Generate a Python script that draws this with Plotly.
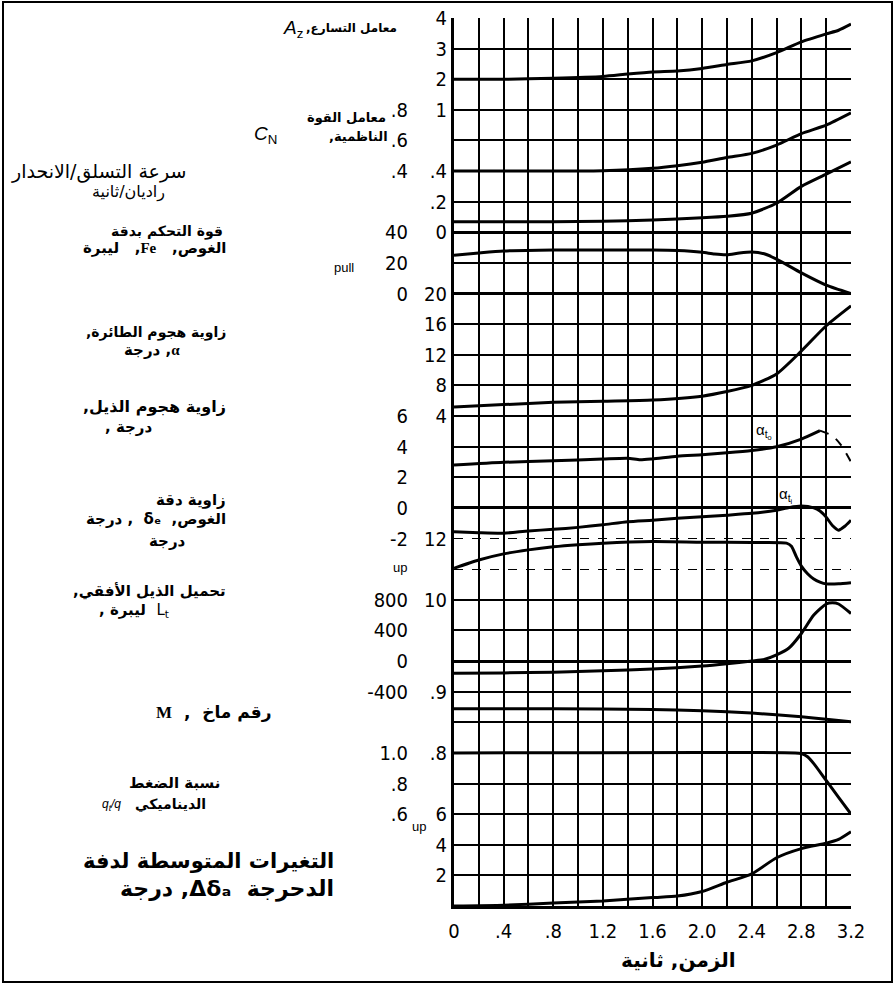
import plotly.graph_objects as go

W, H = 894, 984

# time axis, seconds
x_ticks = [0, 0.2, 0.4, 0.6, 0.8, 1.0, 1.2, 1.4, 1.6, 1.8, 2.0, 2.2, 2.4, 2.6, 2.8, 3.0, 3.2]
x_ticktext = ["0", "", ".4", "", ".8", "", "1.2", "", "1.6", "", "2.0", "", "2.4", "", "2.8", "", "3.2"]

# acceleration factor Az
t_az = [0, 0.4, 0.8, 1.2, 1.4, 1.6, 1.8, 2.0, 2.2, 2.4, 2.6, 2.8, 3.0, 3.1, 3.2]
az = [2.0, 2.0, 2.03, 2.09, 2.17, 2.24, 2.27, 2.35, 2.48, 2.6, 2.87, 3.22, 3.48, 3.6, 3.8]

# normal force coefficient CN
t_cn = [0, 0.8, 1.2, 1.6, 1.8, 2.0, 2.2, 2.4, 2.6, 2.8, 3.0, 3.2]
cn = [0.4, 0.4, 0.402, 0.418, 0.435, 0.458, 0.489, 0.516, 0.57, 0.645, 0.7, 0.78]

# pitch rate, rad/s
t_q = [0, 0.8, 1.2, 1.6, 2.0, 2.2, 2.4, 2.6, 2.8, 3.0, 3.2]
q = [0.07, 0.07, 0.072, 0.08, 0.095, 0.105, 0.125, 0.19, 0.3, 0.38, 0.46]

# stick force Fe, lb
t_fe = [0, 0.2, 0.4, 0.8, 1.2, 1.6, 1.8, 2.0, 2.1, 2.2, 2.3, 2.4, 2.5, 2.6, 2.8, 3.0, 3.2]
fe = [25, 26.5, 27.8, 28.5, 28.5, 28.5, 28.2, 27, 25.8, 25.3, 26.5, 27.2, 26, 22.5, 13.5, 5.5, 0]

# airplane angle of attack, deg
t_alpha = [0, 0.4, 0.8, 1.2, 1.6, 2.0, 2.2, 2.4, 2.6, 2.8, 3.0, 3.2]
alpha = [5.2, 5.5, 5.8, 5.95, 6.1, 6.6, 7.2, 8.0, 9.5, 12.5, 15.8, 18.4]

# tail angle of attack, outboard (solid part, then dashed end)
t_ato = [0, 0.4, 0.8, 1.2, 1.4, 1.5, 1.6, 1.8, 2.0, 2.2, 2.4, 2.6, 2.8, 2.95]
ato = [2.8, 2.98, 3.08, 3.2, 3.25, 3.14, 3.2, 3.38, 3.48, 3.6, 3.75, 4.0, 4.5, 5.05]
t_ato_end = [2.95, 3.05, 3.12, 3.2]
ato_end = [5.05, 4.7, 4.1, 3.0]

# tail angle of attack, inboard
t_ati = [0, 0.2, 0.4, 0.6, 0.8, 1.0, 1.2, 1.4, 1.6, 1.8, 2.0, 2.2, 2.4, 2.6, 2.7, 2.8,
         2.9, 2.95, 3.0, 3.05, 3.1, 3.15, 3.2]
ati = [-1.56, -1.62, -1.65, -1.5, -1.4, -1.27, -1.1, -0.9, -0.8, -0.68, -0.58, -0.47, -0.35,
       -0.15, 0.02, 0.12, 0.0, -0.2, -0.6, -1.15, -1.45, -1.2, -0.8]

# elevator angle, deg
t_de = [0, 0.2, 0.4, 0.6, 0.8, 1.0, 1.2, 1.6, 2.0, 2.4, 2.68, 2.72, 2.76, 2.8, 2.85, 2.9,
        2.95, 3.0, 3.1, 3.2]
de = [11.03, 11.3, 11.5, 11.63, 11.73, 11.8, 11.85, 11.9, 11.88, 11.87, 11.85, 11.75, 11.4,
      11.1, 10.85, 10.68, 10.58, 10.52, 10.52, 10.56]

# horizontal tail load Lt, lb
t_lt = [0, 0.4, 0.8, 1.2, 1.6, 2.0, 2.2, 2.4, 2.5, 2.6, 2.7, 2.8, 2.9, 3.0, 3.05, 3.1, 3.2]
lt = [-160, -155, -145, -128, -105, -65, -35, 0, 20, 80, 170, 360, 600, 745, 760, 745, 620]

# Mach number
t_m = [0, 0.8, 1.6, 2.0, 2.4, 2.8, 3.0, 3.2]
mach = [0.872, 0.872, 0.871, 0.869, 0.865, 0.859, 0.855, 0.851]

# dynamic pressure ratio qt/q
t_qr = [0, 2.75, 2.8, 2.85, 2.9, 3.0, 3.1, 3.2]
qr = [1.0, 1.0, 0.995, 0.975, 0.93, 0.82, 0.71, 0.6]

# mean aileron deflection change, deg
t_da = [0, 0.4, 0.8, 1.2, 1.6, 1.8, 2.0, 2.2, 2.4, 2.6, 2.8, 3.0, 3.1, 3.2]
da = [0, 0.05, 0.2, 0.33, 0.55, 0.65, 0.95, 1.55, 2.1, 3.15, 3.75, 4.1, 4.35, 4.85]

# tick labels of the stacked scales
az_ticks = [1, 2, 3, 4]
cn_ticks = [0.4, 0.6, 0.8]
cn_text = [".4", ".6", ".8"]
q_ticks = [0, 0.2, 0.4]
q_text = ["0", ".2", ".4"]
fe_ticks = [0, 20, 40]
alpha_ticks = [4, 8, 12, 16, 20]
at_ticks = [-2, 0, 2, 4, 6]
de_ticks = [10, 12]
lt_ticks = [-400, 0, 400, 800]
m_ticks = [0.8, 0.9]
m_text = [".8", ".9"]
qr_ticks = [0.6, 0.8, 1.0]
qr_text = [".6", ".8", "1.0"]
da_ticks = [2, 4, 6]


def px(x):
    return x / W


def py(y):
    return 1 - y / H


ROWS = 29          # grid rows from top (row 0) to bottom (row 29)
TOP, BOT = 18, 906
LEFT, RIGHT = 454, 851
COL_L, COL_R = 408, 447
Y_DOM = [py(BOT), py(TOP)]

TICK_FONT = dict(family="Liberation Sans Narrow, DejaVu Sans Condensed, Liberation Sans",
                 size=20, color="black")
AR = "DejaVu Sans"
RLE, PDF = "\u202b", "\u202c"


def scale_range(v_ref, row_ref, step):
    return [v_ref - (ROWS - row_ref) * step, v_ref + row_ref * step]


def scale_axis(rng, ticks, text, col, zero=False):
    return dict(overlaying="y", anchor="free", position=px(col), domain=Y_DOM, range=rng,
                tickvals=ticks, ticktext=text, showgrid=False, showline=False,
                zeroline=zero, zerolinecolor="black", zerolinewidth=3, automargin=False,
                ticks="", tickfont=TICK_FONT, side="left", fixedrange=True)


fig = go.Figure()

# empty traces so the grid axes are drawn
fig.add_trace(go.Scatter(x=[None], y=[None], yaxis="y", hoverinfo="skip"))
fig.add_trace(go.Scatter(x=[None], y=[None], yaxis="y13", hoverinfo="skip"))

curves = [
    (t_az, az, "y2"), (t_cn, cn, "y3"), (t_q, q, "y4"), (t_fe, fe, "y5"),
    (t_alpha, alpha, "y6"), (t_ato, ato, "y7"), (t_ati, ati, "y7"), (t_de, de, "y8"),
    (t_lt, lt, "y9"), (t_m, mach, "y10"), (t_qr, qr, "y11"), (t_da, da, "y12"),
]
for tx, vy, ax in curves:
    fig.add_trace(go.Scatter(x=tx, y=vy, yaxis=ax, mode="lines", hoverinfo="skip",
                             line=dict(color="black", width=3, shape="spline", smoothing=0.6)))
fig.add_trace(go.Scatter(x=t_ato_end, y=ato_end, yaxis="y7", mode="lines", hoverinfo="skip",
                         line=dict(color="black", width=2, dash="dash", shape="spline")))

grid_rows = [r for r in range(ROWS + 1) if r not in (ROWS - 17, ROWS - 18)]

fig.update_layout(
    width=W, height=H,
    margin=dict(l=0, r=0, t=0, b=0),
    paper_bgcolor="white", plot_bgcolor="rgba(0,0,0,0)",
    showlegend=False,
    xaxis=dict(domain=[px(LEFT), px(RIGHT)], range=[0, 3.2], tickvals=x_ticks,
               ticktext=x_ticktext, showgrid=True, gridcolor="black", gridwidth=2,
               showline=True, linecolor="black", linewidth=3, zeroline=False,
               ticks="", tickfont=TICK_FONT, ticklabelstandoff=5, fixedrange=True,
               automargin=False),
    yaxis=dict(domain=Y_DOM, range=[0, ROWS], tickvals=grid_rows,
               showticklabels=False, showgrid=True, gridcolor="black", gridwidth=1.5,
               showline=True, linecolor="black", linewidth=3, zeroline=False,
               ticks="", fixedrange=True, automargin=False),
    yaxis2=scale_axis(scale_range(4, 0, 1), az_ticks, [str(v) for v in az_ticks], COL_R),
    yaxis3=scale_axis(scale_range(0.8, 3, 0.2), cn_ticks, cn_text, COL_L),
    yaxis4=scale_axis(scale_range(0, 7, 0.2), q_ticks, q_text, COL_R, zero=True),
    yaxis5=scale_axis(scale_range(40, 7, 20), fe_ticks, [str(v) for v in fe_ticks], COL_L, zero=True),
    yaxis6=scale_axis(scale_range(20, 9, 4), alpha_ticks, [str(v) for v in alpha_ticks], COL_R),
    yaxis7=scale_axis(scale_range(6, 13, 2), at_ticks, [str(v) for v in at_ticks], COL_L, zero=True),
    yaxis8=scale_axis(scale_range(12, 17, 1), de_ticks, [str(v) for v in de_ticks], COL_R),
    yaxis9=scale_axis(scale_range(800, 19, 400), lt_ticks, [str(v) for v in lt_ticks], COL_L, zero=True),
    yaxis10=scale_axis(scale_range(0.9, 22, 0.05), m_ticks, m_text, COL_R),
    yaxis11=scale_axis(scale_range(1.0, 24, 0.2), qr_ticks, qr_text, COL_L),
    yaxis12=scale_axis(scale_range(0, 29, 2), da_ticks, [str(v) for v in da_ticks], COL_R),
    # two thinner broken grid rows
    yaxis13=dict(overlaying="y", domain=Y_DOM, range=[0, ROWS],
                 tickvals=[ROWS - 17, ROWS - 18], showticklabels=False, showgrid=True,
                 gridcolor="black", gridwidth=1, griddash="dash", showline=False,
                 zeroline=False, ticks="", fixedrange=True, automargin=False),
)


def note(text, x, y, size=13, anchor="right", bold=True, family=AR):
    fig.add_annotation(text=text, x=px(x), y=py(y), xref="paper", yref="paper",
                       xanchor=anchor, yanchor="middle", showarrow=False,
                       font=dict(family=family, size=size, color="black",
                                 weight="bold" if bold else "normal"))


SERIF = '<span style="font-family:Liberation Serif">%s</span>'
SYM = "Liberation Sans"

note(RLE + "معامل التسارع," + PDF, 399, 28, size=12)
note("<i>A</i><sub>z</sub>", 305, 29, size=19, bold=False, family=SYM)
note("معامل القوة", 388, 118)
note(RLE + "الناظمية," + PDF, 390, 137)
note("<i>C</i><sub>N</sub>", 279, 135, size=19, bold=False, family=SYM)
note("سرعة التسلق/الانحدار", 9, 171, size=19, anchor="left", bold=False)
note("راديان/ثانية", 128, 192, size=16, anchor="center", bold=False)
note("قوة التحكم بدقة", 225, 231, size=14)
note(RLE + "الغوص,   " + SERIF % "Fe" + ",   ليبرة" + PDF, 228, 248, size=15)
note("pull", 356, 267, size=13, bold=False, family=SYM)
note(RLE + "زاوية هجوم الطائرة," + PDF, 228, 332, size=14)
note(RLE + SERIF % "α" + ", درجة" + PDF, 182, 350, size=15)
note(RLE + "زاوية هجوم الذيل," + PDF, 228, 407, size=16)
note(", درجة", 154, 427, size=15)
note("زاوية دقة", 228, 500, size=15)
note(RLE + "الغوص,  δₑ  , درجة" + PDF, 228, 519, size=15)
note("درجة", 188, 541, size=15)
note(RLE + "تحميل الذيل الأفقي," + PDF, 228, 591, size=15)
note(", ليبرة  <span style=\"font-weight:normal\">L<sub>t</sub></span>", 171, 610, size=15)
note(RLE + "رقم ماخ  ,  " + SERIF % "M" + PDF, 274, 712, size=17)
note("نسبة الضغط", 222, 783, size=15)
note("الديناميكي", 208, 804, size=14)
note("<i>q<sub>t</sub>/q</i>", 123, 805, size=12, bold=False, family=SYM)
note("التغيرات المتوسطة لدفة", 336, 861, size=21)
note(RLE + "الدحرجة  Δδₐ, درجة" + PDF, 336, 889, size=22)
note("الزمن, ثانية", 678, 960, size=20, anchor="center")

note("up", 400, 567, size=13, anchor="center", bold=False, family=SYM)
note("up", 419, 826, size=13, anchor="center", bold=False, family=SYM)

# curve tags on the tail angle-of-attack scale
fig.add_annotation(text="α<sub>t<sub>o</sub></sub>", x=2.5, y=5.0, xref="x", yref="y7",
                   showarrow=False, font=dict(family=SYM, size=15, color="black"))
fig.add_annotation(text="α<sub>t<sub>i</sub></sub>", x=2.68, y=0.84, xref="x", yref="y7",
                   showarrow=False, font=dict(family=SYM, size=15, color="black"))

# outer frame
fig.add_shape(type="rect", xref="paper", yref="paper", x0=px(3), x1=px(892),
              y0=py(982), y1=py(2), line=dict(color="black", width=2))

fig.write_html("out.html", config={"displayModeBar": False},
               post_script="document.body.style.margin = '0';")
